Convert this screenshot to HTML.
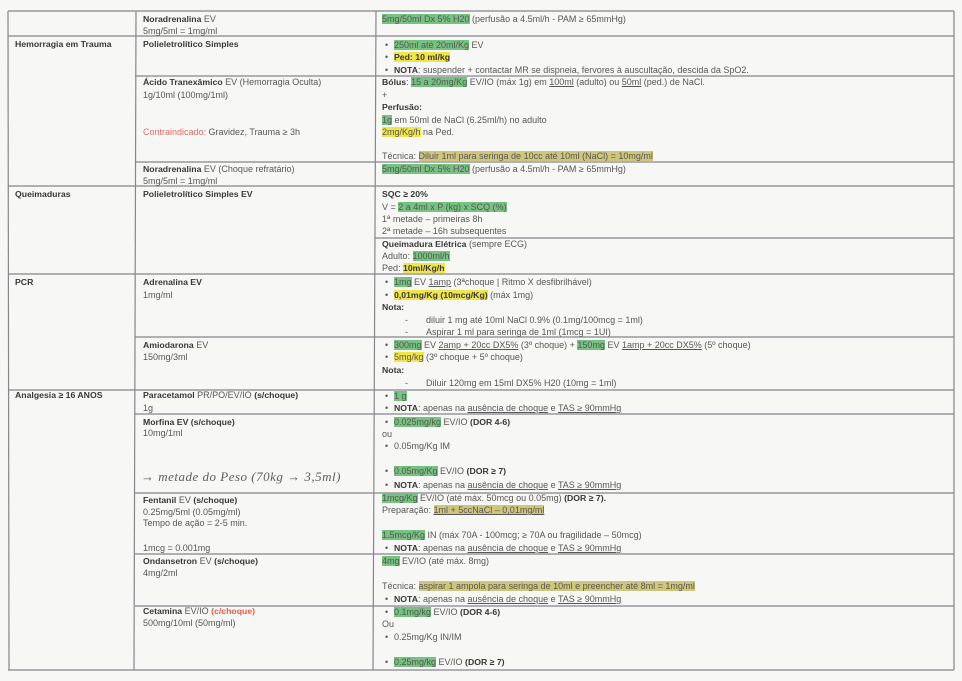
<!DOCTYPE html>
<html>
<head>
<meta charset="utf-8">
<style>
html,body{margin:0;padding:0;}
body{width:962px;height:681px;background:#f7f7f5;position:relative;overflow:hidden;
font-family:"Liberation Sans",Arial,sans-serif;font-size:9px;color:#575757;}
.t{position:absolute;white-space:nowrap;line-height:12px;height:12px;}
.b{font-weight:bold;color:#383838;font-size:8.7px;}
.g{background:#76c281;}
.y{background:#f1e54c;}
.k{background:#cfc67c;}
.u{text-decoration:underline;}
.r{color:#dd6d66;}
.rb{color:#e0604e;font-weight:bold;font-size:8.7px;}
svg{position:absolute;left:0;top:0;}
.hw{position:absolute;white-space:nowrap;font-family:"Liberation Serif",serif;font-style:italic;font-size:13px;color:#5e5e5e;letter-spacing:0.5px;line-height:16px;}
</style>
</head>
<body>
<svg width="962" height="681" viewBox="0 0 962 681">
<g stroke="#86868d" stroke-width="1.2" fill="none">
<line x1="8" y1="11" x2="954" y2="11"/>
<line x1="8" y1="36" x2="954" y2="36"/>
<line x1="135" y1="76" x2="954" y2="76"/>
<line x1="135" y1="162" x2="954" y2="162"/>
<line x1="8" y1="186" x2="954" y2="186"/>
<line x1="375" y1="238" x2="954" y2="238"/>
<line x1="8" y1="274" x2="954" y2="274"/>
<line x1="135" y1="337" x2="954" y2="337"/>
<line x1="8" y1="390" x2="954" y2="390"/>
<line x1="135" y1="414" x2="954" y2="414"/>
<line x1="135" y1="493" x2="954" y2="493"/>
<line x1="135" y1="554" x2="954" y2="554"/>
<line x1="135" y1="606" x2="954" y2="606"/>
<line x1="8" y1="670" x2="954" y2="670"/>
<line x1="8" y1="11" x2="9" y2="670"/>
<line x1="136" y1="11" x2="134" y2="670"/>
<line x1="376" y1="11" x2="373" y2="670"/>
<line x1="954" y1="11" x2="954" y2="670"/>
</g>
</svg>

<!-- Column 1 -->
<div class="t b" style="left:15px;top:38px;">Hemorragia em Trauma</div>
<div class="t b" style="left:15px;top:188px;">Queimaduras</div>
<div class="t b" style="left:15px;top:276px;">PCR</div>
<div class="t b" style="left:15px;top:389px;">Analgesia ≥ 16 ANOS</div>

<!-- Column 2 -->
<div class="t" style="left:143px;top:13px;"><span class="b">Noradrenalina</span> EV</div>
<div class="t" style="left:143px;top:25px;">5mg/5ml = 1mg/ml</div>
<div class="t b" style="left:143px;top:38px;">Polieletrolítico Simples</div>
<div class="t" style="left:143px;top:76px;"><span class="b">Ácido Tranexâmico</span> EV (Hemorragia Oculta)</div>
<div class="t" style="left:143px;top:89px;">1g/10ml (100mg/1ml)</div>
<div class="t" style="left:143px;top:126px;"><span class="r">Contraindicado:</span> Gravidez, Trauma ≥ 3h</div>
<div class="t" style="left:143px;top:163px;"><span class="b">Noradrenalina</span> EV (Choque refratário)</div>
<div class="t" style="left:143px;top:175px;">5mg/5ml = 1mg/ml</div>
<div class="t b" style="left:143px;top:188px;">Polieletrolítico Simples EV</div>
<div class="t b" style="left:143px;top:276px;">Adrenalina EV</div>
<div class="t" style="left:143px;top:289px;">1mg/ml</div>
<div class="t" style="left:143px;top:339px;"><span class="b">Amiodarona</span> EV</div>
<div class="t" style="left:143px;top:351px;">150mg/3ml</div>
<div class="t" style="left:143px;top:389px;"><span class="b">Paracetamol</span> PR/PO/EV/IO <span class="b">(s/choque)</span></div>
<div class="t" style="left:143px;top:402px;">1g</div>
<div class="t b" style="left:143px;top:416px;">Morfina EV (s/choque)</div>
<div class="t" style="left:143px;top:427px;">10mg/1ml</div>
<div class="hw" style="left:141px;top:469px;">→ metade do Peso (70kg → 3,5ml)</div>
<div class="t" style="left:143px;top:494px;"><span class="b">Fentanil</span> EV <span class="b">(s/choque)</span></div>
<div class="t" style="left:143px;top:506px;">0.25mg/5ml (0.05mg/ml)</div>
<div class="t" style="left:143px;top:517px;">Tempo de ação = 2-5 min.</div>
<div class="t" style="left:143px;top:542px;">1mcg = 0.001mg</div>
<div class="t" style="left:143px;top:555px;"><span class="b">Ondansetron</span> EV <span class="b">(s/choque)</span></div>
<div class="t" style="left:143px;top:567px;">4mg/2ml</div>
<div class="t" style="left:143px;top:605px;"><span class="b">Cetamina</span> EV/IO <span class="rb">(c/choque)</span></div>
<div class="t" style="left:143px;top:617px;">500mg/10ml (50mg/ml)</div>

<!-- Column 3 -->
<div class="t" style="left:382px;top:13px;"><span class="g">5mg/50ml Dx 5% H20</span> (perfusão a 4.5ml/h - PAM ≥ 65mmHg)</div>

<div class="t" style="left:385px;top:39px;">•</div>
<div class="t" style="left:394px;top:39px;"><span class="g">250ml até 20ml/Kg</span> EV</div>
<div class="t" style="left:385px;top:51px;">•</div>
<div class="t" style="left:394px;top:51px;"><span class="y b">Ped: 10 ml/kg</span></div>
<div class="t" style="left:385px;top:64px;">•</div>
<div class="t" style="left:394px;top:64px;"><span class="b">NOTA</span>: suspender + contactar MR se dispneia, fervores à auscultação, descida da SpO2.</div>

<div class="t" style="left:382px;top:76px;"><span class="b">Bólus</span>: <span class="g">15 a 20mg/Kg</span> EV/IO (máx 1g) em <span class="u">100ml</span> (adulto) ou <span class="u">50ml</span> (ped.) de NaCl.</div>
<div class="t" style="left:382px;top:89px;">+</div>
<div class="t b" style="left:382px;top:101px;">Perfusão:</div>
<div class="t" style="left:382px;top:114px;"><span class="g">1g</span> em 50ml de NaCl (6.25ml/h) no adulto</div>
<div class="t" style="left:382px;top:126px;"><span class="y">2mg/Kg/h</span> na Ped.</div>
<div class="t" style="left:382px;top:150px;">Técnica: <span class="k">Diluir 1ml para seringa de 10cc até 10ml (NaCl) = 10mg/ml</span></div>

<div class="t" style="left:382px;top:163px;"><span class="g">5mg/50ml Dx 5% H20</span> (perfusão a 4.5ml/h - PAM ≥ 65mmHg)</div>

<div class="t b" style="left:382px;top:188px;">SQC ≥ 20%</div>
<div class="t" style="left:382px;top:201px;">V = <span class="g">2 a 4ml x P (kg) x SCQ (%)</span></div>
<div class="t" style="left:382px;top:213px;">1ª metade – primeiras 8h</div>
<div class="t" style="left:382px;top:225px;">2ª metade – 16h subsequentes</div>
<div class="t" style="left:382px;top:238px;"><span class="b">Queimadura Elétrica</span> (sempre ECG)</div>
<div class="t" style="left:382px;top:250px;">Adulto: <span class="g">1000ml/h</span></div>
<div class="t" style="left:382px;top:262px;">Ped: <span class="y b">10ml/Kg/h</span></div>

<div class="t" style="left:385px;top:276px;">•</div>
<div class="t" style="left:394px;top:276px;"><span class="g">1mg</span> EV <span class="u">1amp</span> (3ªchoque | Ritmo X desfibrilhável)</div>
<div class="t" style="left:385px;top:289px;">•</div>
<div class="t" style="left:394px;top:289px;"><span class="y b">0,01mg/Kg (10mcg/Kg)</span> (máx 1mg)</div>
<div class="t b" style="left:382px;top:301px;">Nota:</div>
<div class="t" style="left:405px;top:314px;">-</div>
<div class="t" style="left:426px;top:314px;">diluir 1 mg até 10ml NaCl 0.9% (0.1mg/100mcg = 1ml)</div>
<div class="t" style="left:405px;top:326px;">-</div>
<div class="t" style="left:426px;top:326px;">Aspirar 1 ml para seringa de 1ml (1mcg = 1UI)</div>

<div class="t" style="left:385px;top:339px;">•</div>
<div class="t" style="left:394px;top:339px;"><span class="g">300mg</span> EV <span class="u">2amp + 20cc DX5%</span> (3º choque) + <span class="g">150mg</span> EV <span class="u">1amp + 20cc DX5%</span> (5º choque)</div>
<div class="t" style="left:385px;top:351px;">•</div>
<div class="t" style="left:394px;top:351px;"><span class="y">5mg/kg</span> (3º choque + 5º choque)</div>
<div class="t b" style="left:382px;top:364px;">Nota:</div>
<div class="t" style="left:405px;top:377px;">-</div>
<div class="t" style="left:426px;top:377px;">Diluir 120mg em 15ml DX5% H20 (10mg = 1ml)</div>

<div class="t" style="left:385px;top:390px;">•</div>
<div class="t" style="left:394px;top:390px;"><span class="g">1 g</span></div>
<div class="t" style="left:385px;top:402px;">•</div>
<div class="t" style="left:394px;top:402px;"><span class="b">NOTA</span>: apenas na <span class="u">ausência de choque</span> e <span class="u">TAS ≥ 90mmHg</span></div>

<div class="t" style="left:385px;top:416px;">•</div>
<div class="t" style="left:394px;top:416px;"><span class="g">0.025mg/kg</span> EV/IO <span class="b">(DOR 4-6)</span></div>
<div class="t" style="left:382px;top:428px;">ou</div>
<div class="t" style="left:385px;top:440px;">•</div>
<div class="t" style="left:394px;top:440px;">0.05mg/Kg IM</div>
<div class="t" style="left:385px;top:465px;">•</div>
<div class="t" style="left:394px;top:465px;"><span class="g">0.05mg/Kg</span> EV/IO <span class="b">(DOR ≥ 7)</span></div>
<div class="t" style="left:385px;top:479px;">•</div>
<div class="t" style="left:394px;top:479px;"><span class="b">NOTA</span>: apenas na <span class="u">ausência de choque</span> e <span class="u">TAS ≥ 90mmHg</span></div>

<div class="t" style="left:382px;top:492px;"><span class="g">1mcg/Kg</span> EV/IO (até máx. 50mcg ou 0.05mg) <span class="b">(DOR ≥ 7).</span></div>
<div class="t" style="left:382px;top:504px;">Preparação: <span class="k u">1ml + 5ccNaCl – 0,01mg/ml</span></div>
<div class="t" style="left:382px;top:529px;"><span class="g">1.5mcg/Kg</span> IN (máx 70A - 100mcg; ≥ 70A ou fragilidade – 50mcg)</div>
<div class="t" style="left:385px;top:542px;">•</div>
<div class="t" style="left:394px;top:542px;"><span class="b">NOTA</span>: apenas na <span class="u">ausência de choque</span> e <span class="u">TAS ≥ 90mmHg</span></div>

<div class="t" style="left:382px;top:555px;"><span class="g">4mg</span> EV/IO (até máx. 8mg)</div>
<div class="t" style="left:382px;top:580px;">Técnica: <span class="k">aspirar 1 ampola para seringa de 10ml e preencher até 8ml = 1mg/ml</span></div>
<div class="t" style="left:385px;top:593px;">•</div>
<div class="t" style="left:394px;top:593px;"><span class="b">NOTA</span>: apenas na <span class="u">ausência de choque</span> e <span class="u">TAS ≥ 90mmHg</span></div>

<div class="t" style="left:385px;top:606px;">•</div>
<div class="t" style="left:394px;top:606px;"><span class="g">0.1mg/kg</span> EV/IO <span class="b">(DOR 4-6)</span></div>
<div class="t" style="left:382px;top:618px;">Ou</div>
<div class="t" style="left:385px;top:631px;">•</div>
<div class="t" style="left:394px;top:631px;">0.25mg/Kg IN/IM</div>
<div class="t" style="left:385px;top:656px;">•</div>
<div class="t" style="left:394px;top:656px;"><span class="g">0.25mg/kg</span> EV/IO <span class="b">(DOR ≥ 7)</span></div>
</body>
</html>
